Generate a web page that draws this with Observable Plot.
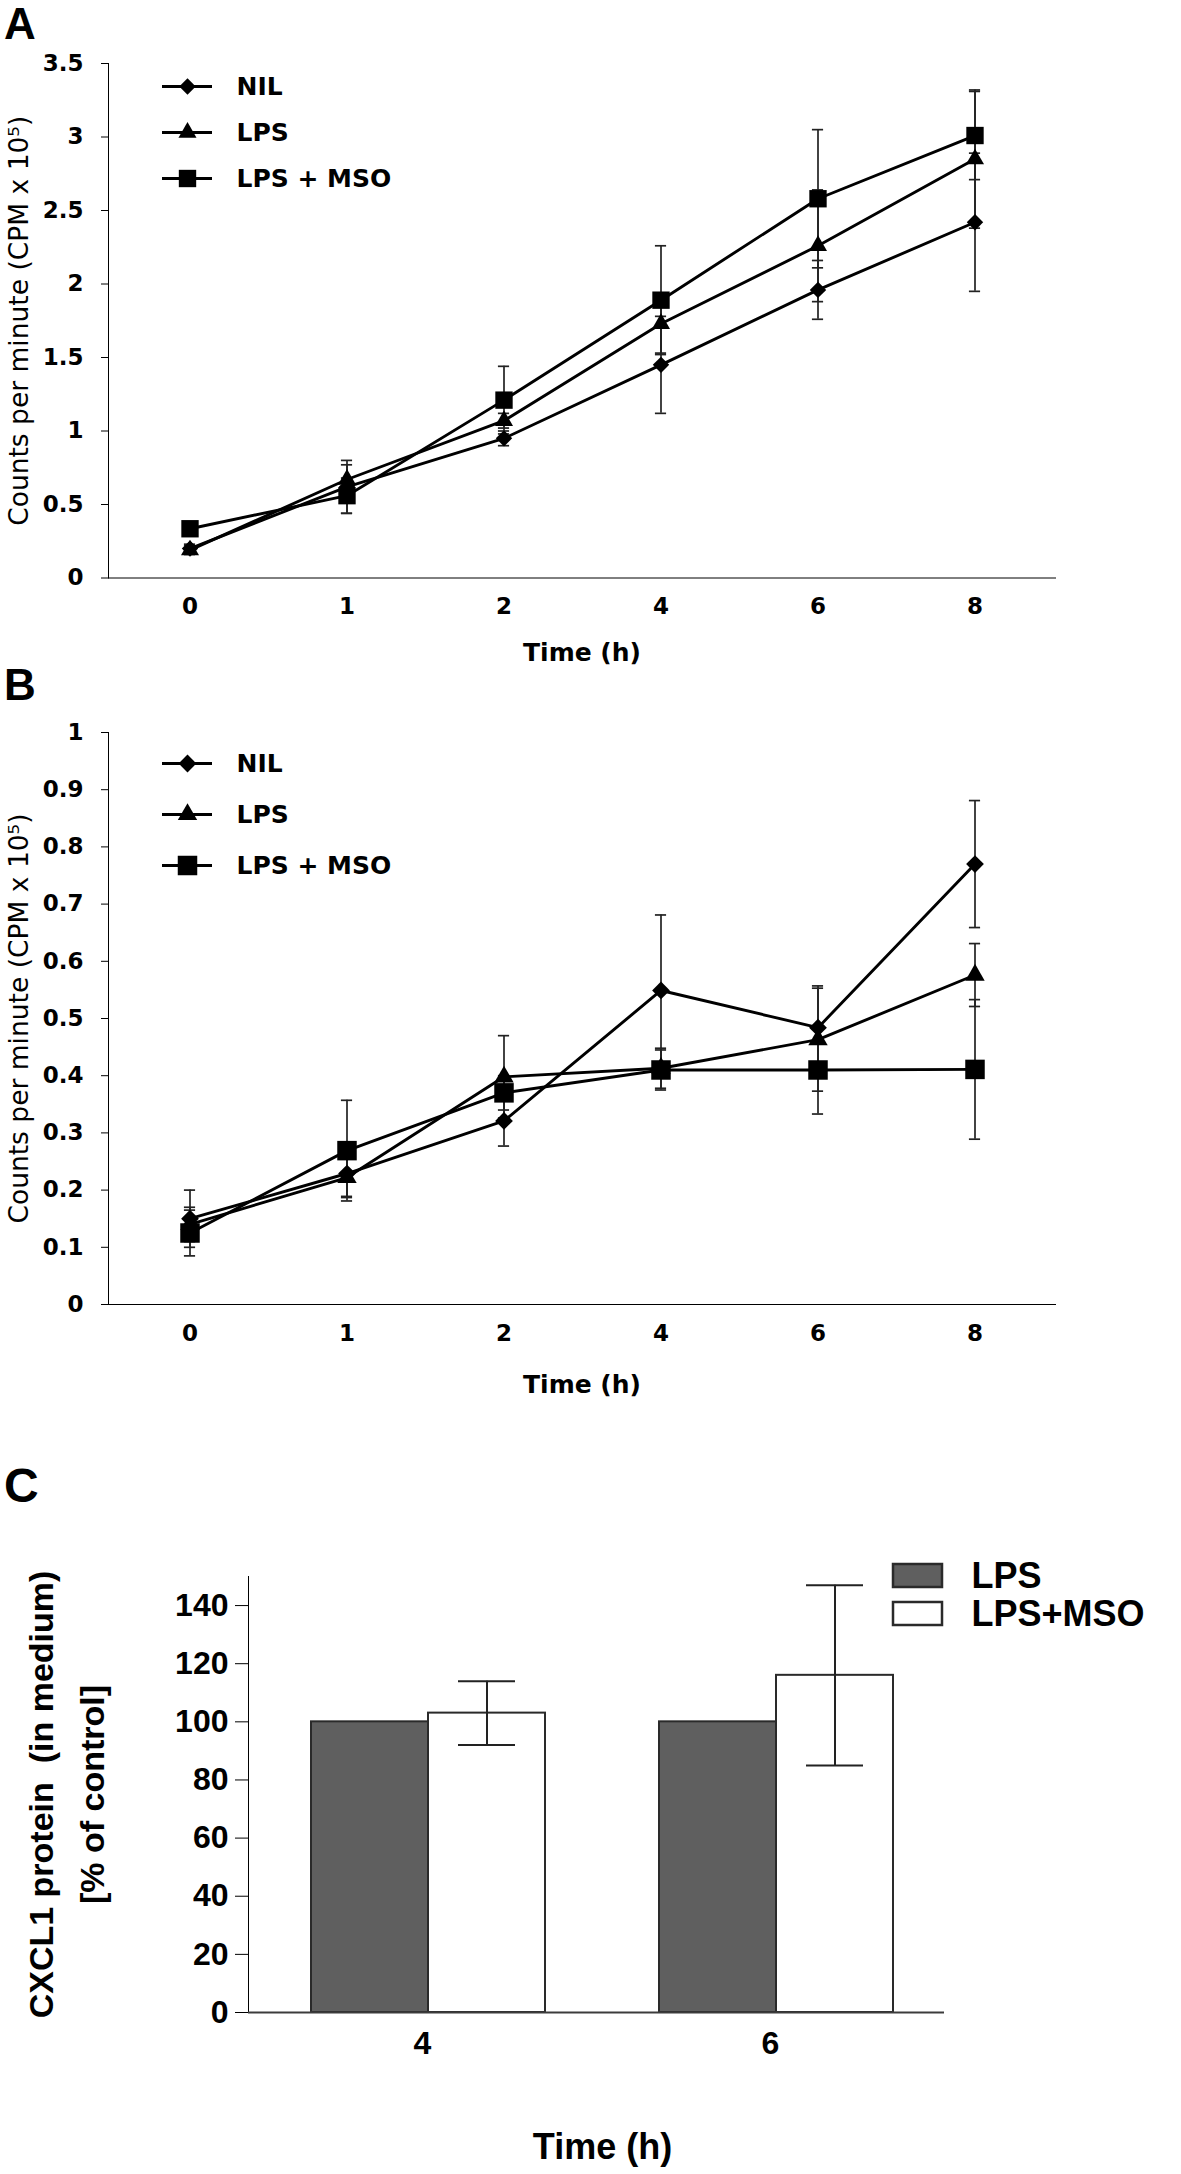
<!DOCTYPE html>
<html>
<head>
<meta charset="utf-8">
<script src="https://cdn.jsdelivr.net/npm/d3@7"></script>
<script src="https://cdn.jsdelivr.net/npm/@observablehq/plot@0.6"></script>
<style>
  body { margin: 0; background: #fff; }
  #page { position: relative; width: 1181px; height: 2174px; overflow: hidden; background: #fff; }
  .letter { position: absolute; left: 4px; font-family: "Liberation Sans", Arial, sans-serif; font-weight: bold; line-height: 1.15; color: #000; }
</style>
</head>
<body>
<div id="page">
  <div class="letter" style="top:-1px;font-size:44px">A</div>
  <div class="letter" style="top:660px;font-size:44px">B</div>
  <div class="letter" style="top:1458px;font-size:48px">C</div>
</div>
<script>
// ---------------- DATA ----------------
const times = ["0", "1", "2", "4", "6", "8"];
const series = ["NIL", "LPS", "LPS + MSO"];

// Panel A (CPM x 10^5)
const yTicksA = [0, 0.5, 1, 1.5, 2, 2.5, 3, 3.5];
const aNIL    = [0.20, 0.62, 0.95, 1.45, 1.96, 2.42];
const aNILerr = [0.03, 0.18, 0.05, 0.33, 0.20, 0.47];
const aLPS    = [0.19, 0.67, 1.07, 1.73, 2.26, 2.85];
const aLPSerr = [0.03, 0.10, 0.05, 0.20, 0.38, 0.47];
const aMSO    = [0.335, 0.56, 1.21, 1.89, 2.58, 3.01];
const aMSOerr = [0.03, 0.12, 0.23, 0.37, 0.47, 0.30];

// Panel B (CPM x 10^5)
const yTicksB = [0, 0.1, 0.2, 0.3, 0.4, 0.5, 0.6, 0.7, 0.8, 0.9, 1];
const bNIL    = [0.150, 0.229, 0.321, 0.549, 0.484, 0.770];
const bNILerr = [0.050, 0.040, 0.044, 0.132, 0.073, 0.111];
const bLPS    = [0.140, 0.222, 0.398, 0.413, 0.463, 0.576];
const bLPSerr = [0.030, 0.035, 0.072, 0.035, 0.090, 0.055];
const bMSO    = [0.125, 0.269, 0.370, 0.410, 0.410, 0.411];
const bMSOerr = [0.040, 0.088, 0.030, 0.035, 0.077, 0.122];

// Panel C (CXCL1 % of control)
const cTimes  = ["4", "6"];
const cSeries = ["LPS", "LPS+MSO"];
const yTicksC = [0, 20, 40, 60, 80, 100, 120, 140];
const cLPS    = [100, 100];
const cMSO    = [103, 116];
const cMSOerr = [11, 31];

// ---------------- BUILD ----------------
const symbolOf = {"NIL": "diamond2", "LPS": "triangle", "LPS + MSO": "square"};
const rA = {"NIL": 7.4, "LPS": 6.7, "LPS + MSO": 9.8};
const rB = {"NIL": 8.0, "LPS": 7.2, "LPS + MSO": 11.0};

function tidy(vals, errs) {
  const out = [];
  series.forEach((s, k) => times.forEach((t, i) => out.push({
    time: t, series: s, value: vals[k][i],
    lo: vals[k][i] - errs[k][i], hi: vals[k][i] + errs[k][i]
  })));
  return out;
}
const dataA = tidy([aNIL, aLPS, aMSO], [aNILerr, aLPSerr, aMSOerr]);
const dataB = tidy([bNIL, bLPS, bMSO], [bNILerr, bLPSerr, bMSOerr]);

const dataC = [];
cTimes.forEach((t, i) => {
  dataC.push({time: t, series: "LPS", value: cLPS[i]});
  dataC.push({time: t, series: "LPS+MSO", value: cMSO[i]});
});
const errC = cTimes.map((t, i) => ({time: t, series: "LPS+MSO", lo: cMSO[i] - cMSOerr[i], hi: cMSO[i] + cMSOerr[i]}));

const page = document.getElementById("page");
function place(node, top, left = 0) {
  node.style.position = "absolute";
  node.style.top = top + "px";
  node.style.left = left + "px";
  page.appendChild(node);
}

const wideFont = '"DejaVu Sans", Verdana, sans-serif';
const arialFont = '"Liberation Sans", Arial, sans-serif';
const axisColor = "#3c3c3c";

function linePanel({data, yDomain, yTicks, height, marginTop, marginBottom, xTitleDy, rOf}) {
  const width = 1181, marginLeft = 108, marginRight = 126;
  const bw = (width - marginLeft - marginRight) / times.length;
  const capInset = bw / 2 - 6;
  return Plot.plot({
    width, height, marginLeft, marginRight, marginTop, marginBottom,
    style: {fontFamily: wideFont, fontSize: "23px", fontWeight: "bold", color: "#000", background: "transparent", overflow: "visible"},
    x: {type: "band", domain: times, padding: 0, tickSize: 0, tickPadding: 20, line: true, label: null},
    y: {domain: yDomain, ticks: yTicks, tickSize: 7, tickPadding: 18, line: true, label: null, tickFormat: d => String(d)},
    marks: [
      Plot.ruleX(data, {x: "time", y1: "lo", y2: "hi", stroke: "#222", strokeWidth: 1.7}),
      Plot.tickY(data, {x: "time", y: "hi", insetLeft: capInset, insetRight: capInset, stroke: "#222", strokeWidth: 1.7}),
      Plot.tickY(data, {x: "time", y: "lo", insetLeft: capInset, insetRight: capInset, stroke: "#222", strokeWidth: 1.7}),
      Plot.line(data, {x: "time", y: "value", z: "series", stroke: "#000", strokeWidth: 2.9}),
      ...series.map(s => Plot.dot(data.filter(d => d.series === s), {x: "time", y: "value", symbol: symbolOf[s], r: rOf[s], fill: "#000", stroke: "none"})),
      Plot.text(["Time (h)"], {frameAnchor: "bottom", dy: xTitleDy, lineAnchor: "middle", fontSize: 25, fontWeight: "bold"}),
      Plot.text(["Counts per minute (CPM x 10\u2075)"], {frameAnchor: "left", rotate: -90, dx: -89, textAnchor: "middle", lineAnchor: "middle", fontSize: 26.5, fontWeight: "normal"})
    ]
  });
}

function lineLegend(rowTop, rowBottom, rOf) {
  const width = 420;
  return Plot.plot({
    width, height: rowBottom + 20, marginLeft: 162, marginRight: width - 212, marginTop: rowTop, marginBottom: 20,
    style: {fontFamily: wideFont, fontSize: "25px", fontWeight: "bold", color: "#000", background: "transparent", overflow: "visible"},
    x: {domain: [0, 1], axis: null},
    y: {type: "point", domain: series, padding: 0, axis: null},
    marks: [
      Plot.ruleY(series, {y: d => d, stroke: "#000", strokeWidth: 2.9}),
      ...series.map(s => Plot.dot([s], {y: d => d, symbol: symbolOf[s], r: rOf[s], fill: "#000", stroke: "none"})),
      Plot.text(series, {y: d => d, frameAnchor: "right", dx: 24, textAnchor: "start"})
    ]
  });
}

// Panel A
place(linePanel({data: dataA, yDomain: [0, 3.5], yTicks: yTicksA, height: 690, marginTop: 63, marginBottom: 112.5, xTitleDy: 75, rOf: rA}), 0);
place(lineLegend(85, 178, rA), 0);

// Panel B
place(linePanel({data: dataB, yDomain: [0, 1], yTicks: yTicksB, height: 740, marginTop: 42, marginBottom: 126, xTitleDy: 80, rOf: rB}), 690);
place(lineLegend(72, 175, rB), 690);

// Panel C
const chartC = Plot.plot({
  width: 1181, height: 744, marginLeft: 248, marginRight: 237, marginTop: 146, marginBottom: 162,
  style: {fontFamily: arialFont, fontSize: "32px", fontWeight: "bold", color: "#000", background: "transparent", overflow: "visible"},
  fx: {domain: cTimes, padding: 0, tickSize: 0, tickPadding: 19, label: null, axis: "bottom"},
  x: {domain: cSeries, paddingInner: 0, paddingOuter: 0.48, align: 0.55, axis: null},
  y: {domain: [0, 150], ticks: yTicksC, tickSize: 13, tickPadding: 7, line: true, label: null},
  color: {domain: cSeries, range: ["#5f5f5f", "#ffffff"]},
  marks: [
    Plot.barY(dataC, {fx: "time", x: "series", y: "value", fill: "series", stroke: "#2a2a2a", strokeWidth: 2}),
    Plot.ruleX(errC, {fx: "time", x: "series", y1: "lo", y2: "hi", stroke: "#222", strokeWidth: 2}),
    Plot.tickY(errC, {fx: "time", x: "series", y: "hi", insetLeft: 30, insetRight: 30, stroke: "#222", strokeWidth: 2}),
    Plot.tickY(errC, {fx: "time", x: "series", y: "lo", insetLeft: 30, insetRight: 30, stroke: "#222", strokeWidth: 2}),
    Plot.ruleY([0], {stroke: axisColor, strokeWidth: 2}),
    Plot.text(["CXCL1 protein\u00a0 (in medium)"], {fx: () => "4", frameAnchor: "left", rotate: -90, dx: -206, textAnchor: "middle", lineAnchor: "middle", fontSize: 34}),
    Plot.text(["[% of control]"], {fx: () => "4", frameAnchor: "left", rotate: -90, dx: -155, textAnchor: "middle", lineAnchor: "middle", fontSize: 34}),
    Plot.text(["Time (h)"], {fx: () => "4", frameAnchor: "bottom-right", dx: 6, dy: 135, textAnchor: "middle", lineAnchor: "middle", fontSize: 36})
  ]
});
place(chartC, 1430);

// Legend C
const legendC = Plot.plot({
  width: 300, height: 110, marginLeft: 0, marginRight: 251, marginTop: 24, marginBottom: 24,
  style: {fontFamily: arialFont, fontSize: "36px", fontWeight: "bold", color: "#000", background: "transparent", overflow: "visible"},
  x: {domain: [0, 1], axis: null},
  y: {type: "band", domain: cSeries, paddingInner: 0.39, paddingOuter: 0, axis: null},
  color: {domain: cSeries, range: ["#5f5f5f", "#ffffff"]},
  marks: [
    Plot.barX(cSeries, {x1: 0, x2: 1, y: d => d, fill: d => d, stroke: "#2a2a2a", strokeWidth: 2.5}),
    Plot.text(cSeries, {y: d => d, frameAnchor: "right", dx: 29, textAnchor: "start"})
  ]
});
place(legendC, 1540, 893);
</script>
</body>
</html>
